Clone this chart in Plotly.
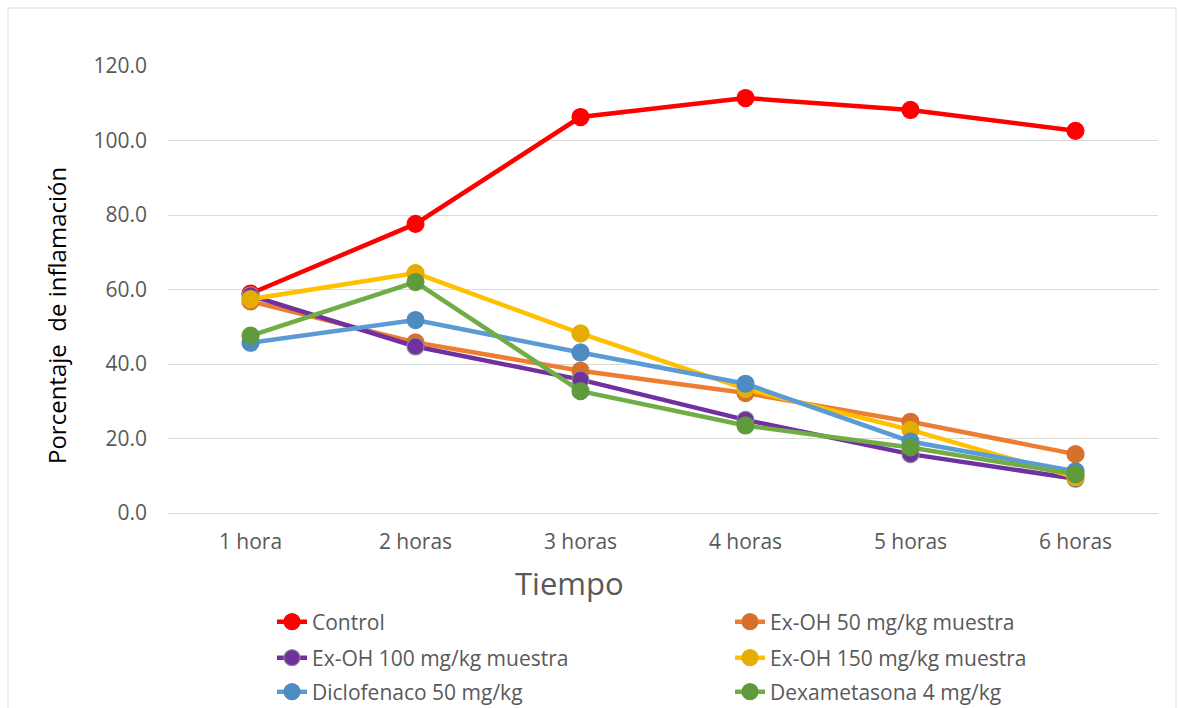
import plotly.graph_objects as go

categories = ["1 hora", "2 horas", "3 horas", "4 horas", "5 horas", "6 horas"]
control = [58.9, 77.6, 106.3, 111.4, 108.2, 102.6]
exoh_50 = [56.8, 45.8, 38.2, 32.2, 24.5, 15.8]
exoh_100 = [58.4, 44.7, 35.8, 25.0, 15.8, 9.2]
exoh_150 = [57.4, 64.4, 48.2, 33.3, 22.3, 9.6]
diclofenaco = [45.7, 51.8, 43.1, 34.7, 19.2, 11.2]
dexametasona = [47.6, 62.0, 32.7, 23.5, 17.6, 10.4]

series = [
    ("Control", control, "#FF0000", "#FF0000", "#FF0000"),
    ("Ex-OH 50 mg/kg muestra", exoh_50, "#ED7D31", "#D8702B", "#D8702B"),
    ("Ex-OH 100 mg/kg muestra", exoh_100, "#7030A0", "#7030A0", "#8C8C8C"),
    ("Ex-OH 150 mg/kg muestra", exoh_150, "#FFC000", "#E5AD00", "#E5AD00"),
    ("Diclofenaco 50 mg/kg", diclofenaco, "#5B9BD5", "#4E8BC0", "#4E8BC0"),
    ("Dexametasona 4 mg/kg", dexametasona, "#70AD47", "#5F9A3D", "#5F9A3D"),
]

W, H = 1178, 708
L, R, T, B = 168, 20, 66, 195

# legend slot positions (left x, centre y) in pixels: two columns, three rows
legend_cols = [272, 730]
legend_rows = [622, 658, 692]

fig = go.Figure()
legend_layouts = {}
for i, (name, vals, lc, mc, mlc) in enumerate(series):
    key = "legend" if i == 0 else f"legend{i + 1}"
    fig.add_trace(go.Scatter(
        x=categories, y=vals, name=name, mode="lines+markers", legend=key,
        line=dict(color=lc, width=4.5),
        marker=dict(size=17, color=mc, line=dict(color=mlc, width=1.2)),
    ))
    lx = legend_cols[i % 2]
    ly = legend_rows[i // 2]
    legend_layouts[key] = dict(
        orientation="h", xref="container", yref="container",
        x=lx / W, xanchor="left", y=(H - ly) / H, yanchor="middle",
        font=dict(size=21, color="#595959"), bgcolor="rgba(0,0,0,0)",
    )

pw = W - L - R
ph = H - T - B
def px_x(p):
    return (p - L) / pw
def px_y(p):
    return (H - B - p) / ph

fig.add_shape(type="rect", xref="paper", yref="paper",
              x0=px_x(8), x1=px_x(1176), y0=px_y(715), y1=px_y(8),
              line=dict(color="#D9D9D9", width=1), fillcolor="rgba(0,0,0,0)", layer="below")

fig.add_annotation(text="Tiempo", xref="paper", yref="paper",
                   x=px_x(569), y=px_y(583), xanchor="center", yanchor="middle",
                   showarrow=False, font=dict(size=31, color="#595959"))
fig.add_annotation(text="Porcentaje  de inflamación", xref="paper", yref="paper",
                   x=px_x(56), y=px_y(316), xanchor="center", yanchor="middle",
                   textangle=-90, showarrow=False, font=dict(size=24, color="black"))

fig.update_layout(
    width=W, height=H,
    margin=dict(l=L, r=R, t=T, b=B, autoexpand=False),
    paper_bgcolor="white", plot_bgcolor="white",
    font=dict(family="Open Sans", color="#595959", size=20),
    showlegend=True,
    xaxis=dict(
        type="category", range=[-0.5, 5.5], showgrid=False, zeroline=False,
        showline=False, ticks="", ticklabelstandoff=14,
        tickfont=dict(size=21, color="#595959"),
        fixedrange=True,
    ),
    yaxis=dict(
        range=[0, 120], dtick=20, tickformat=".1f", showgrid=True,
        gridcolor="#D9D9D9", gridwidth=1.3, zeroline=True, zerolinecolor="#D9D9D9",
        zerolinewidth=1.3, showline=False, ticks="", ticklabelstandoff=20,
        tickfont=dict(size=21, color="#595959"),
        fixedrange=True,
    ),
    **legend_layouts,
)

fig.write_html("out.html")
